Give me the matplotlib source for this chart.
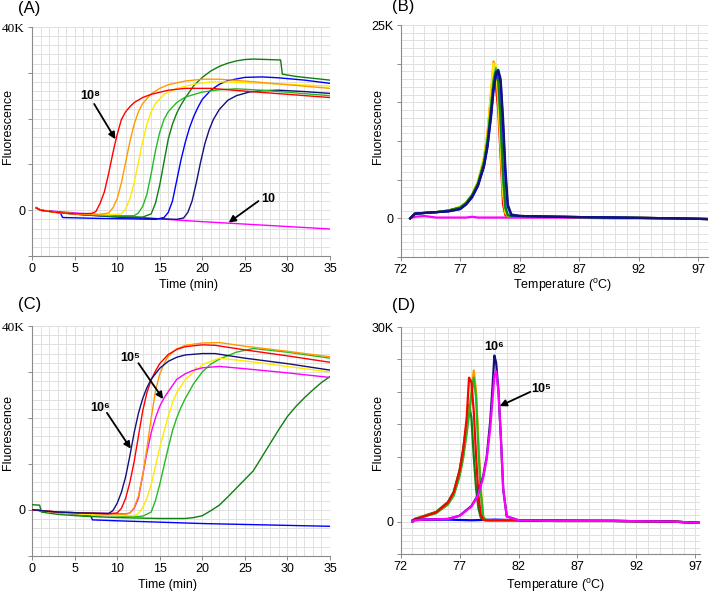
import matplotlib
matplotlib.use("Agg")
import matplotlib.pyplot as plt
from matplotlib.ticker import MultipleLocator, FixedLocator

plt.rcParams['font.family'] = ['Liberation Sans', 'DejaVu Sans']
plt.rcParams['mathtext.fontset'] = 'custom'
plt.rcParams['mathtext.rm'] = 'Liberation Sans'

# ---------------- Panel A (amplification, time in min, fluorescence in K) ----------------
a_t_red = [0.5, 1, 3, 5, 7, 7.5, 8, 8.5, 9, 9.5, 10, 10.5, 11, 11.5, 12, 13, 14, 16, 18, 21, 25, 30, 35]
a_y_red = [0.5, 0, -0.5, -0.8, -0.7, -0.3, 1.5, 4, 8, 12.5, 16.5, 19.8, 21.5, 22.6, 23.5, 24.6, 25.3, 26.2, 26.6, 26.6, 26.0, 25.3, 24.6]
a_t_orange = [0.5, 1, 3, 5, 8, 9, 9.5, 10, 10.5, 11, 11.5, 12, 12.5, 13, 14, 15, 16, 18, 20, 22, 25, 30, 35]
a_y_orange = [0.5, 0, -0.5, -0.8, -0.9, -0.6, 0.5, 2.5, 6, 10.5, 15, 18.8, 21.5, 23.3, 25.4, 26.6, 27.4, 28.2, 28.6, 28.6, 28.2, 27.4, 26.6]
a_t_yellow = [0.5, 1, 3, 5, 9, 10.5, 11, 11.5, 12, 12.5, 13, 13.5, 14, 14.5, 15.5, 17, 19, 21, 23, 27, 31, 35]
a_y_yellow = [0.5, 0, -0.5, -0.8, -1.0, -0.8, 0.3, 2.5, 6, 10.5, 15, 18.8, 21.5, 23.3, 25.3, 26.6, 27.5, 28, 28, 27.7, 27.4, 27.1]
a_t_green = [0.5, 1, 3, 6, 10, 12, 12.5, 13, 13.5, 14, 14.5, 15, 15.5, 16, 17, 18, 20, 22, 24, 27, 31, 35]
a_y_green = [0.5, 0, -0.5, -0.9, -1.2, -1.2, -0.6, 0.8, 3.5, 8, 13, 17, 19.8, 21.5, 23.5, 24.7, 25.8, 26.3, 26.5, 26.2, 25.6, 25]
a_t_dgreen = [0.5, 1, 3, 6, 10, 13, 14, 14.5, 15, 15.5, 16, 16.5, 17, 17.5, 18, 19, 20, 21, 22, 23, 24, 25, 26, 29.2, 29.4, 31, 35]
a_y_dgreen = [0.5, 0, -0.5, -1, -1.4, -1.5, -0.8, 1.5, 5.5, 10.5, 15.5, 18.8, 21.2, 23.0, 24.5, 27.2, 29, 30.4, 31.4, 32.1, 32.6, 32.9, 33, 32.8, 29.7, 29.2, 28.4]
a_t_blue = [0.5, 1, 3.3, 3.6, 8, 12, 14.5, 15.5, 16, 16.5, 17, 17.5, 18, 18.5, 19, 19.5, 20, 21, 22, 23, 25, 27, 29, 32, 35]
a_y_blue = [0.5, 0, -0.5, -1.6, -1.8, -1.9, -2, -1.6, -0.5, 2, 6.5, 11, 14.8, 18, 20.5, 22.5, 24.2, 26.2, 27.5, 28.3, 29, 29.1, 28.9, 28.4, 27.7]
a_t_navy = [0.5, 1, 3, 6, 10, 14, 17, 17.8, 18.3, 18.8, 19.3, 19.8, 20.3, 20.8, 21.3, 22, 23, 24, 25.5, 27, 29, 32, 35]
a_y_navy = [0.5, 0, -0.5, -1, -1.5, -1.8, -2, -1.7, -0.5, 2, 6, 10.5, 14.5, 17.5, 19.8, 22, 24, 25, 25.8, 26.1, 26.2, 25.9, 25.5]
a_t_magenta = [0.5, 1, 10, 20, 35]
a_y_magenta = [0.6, 0, -1.3, -2.5, -4.1]

# ---------------- Panel B (melt curves, temperature in C, fluorescence in K) ----------------
b_temp = [72.8, 73.0, 73.2, 74, 75, 76, 77, 77.5, 78, 78.5, 79, 79.3, 79.6, 79.8, 80.0, 80.2, 80.4, 80.6, 80.8, 81.0, 81.3, 82, 85, 90, 95, 98]
b_red = [0, 0.3, 0.6, 0.7, 0.8, 1.0, 1.4, 2.0, 3.0, 4.6, 7.6, 10.8, 15.8, 17.6, 17.0, 14, 8, 1.8, 0.4, 0.3, 0.3, 0.3, 0.2, 0.1, 0.0, -0.1]
b_orange = [0, 0.3, 0.6, 0.7, 0.8, 1.0, 1.4, 2.0, 3.0, 4.7, 7.8, 11, 16.5, 20.3, 19.5, 15, 9, 3, 0.7, 0.3, 0.3, 0.3, 0.2, 0.1, 0.0, -0.1]
b_yellow = [0, 0.3, 0.6, 0.7, 0.8, 1.0, 1.5, 2.1, 3.1, 4.8, 7.9, 11, 16.3, 20.0, 19.8, 16, 10, 3.5, 0.8, 0.3, 0.3, 0.3, 0.2, 0.1, 0.0, -0.1]
b_green = [0, 0.3, 0.6, 0.7, 0.8, 1.0, 1.4, 2.0, 3.0, 4.6, 7.4, 10.3, 14.8, 18, 19.4, 17.5, 12, 5, 1.2, 0.4, 0.3, 0.3, 0.2, 0.1, 0.0, -0.1]
b_dgreen = [0, 0.3, 0.6, 0.7, 0.8, 1.0, 1.4, 2.0, 3.0, 4.5, 7.2, 10, 14.2, 17.4, 19.0, 17.8, 13, 6, 1.5, 0.4, 0.3, 0.3, 0.2, 0.1, 0.0, -0.1]
b_blue = [0, 0.3, 0.6, 0.7, 0.8, 0.9, 1.2, 1.8, 2.7, 4.2, 6.7, 9.3, 13.2, 16.5, 18.4, 19.0, 17.5, 12, 5.5, 1.5, 0.4, 0.3, 0.2, 0.1, 0.0, -0.1]
b_navy = [0, 0.3, 0.6, 0.7, 0.8, 0.9, 1.2, 1.8, 2.8, 4.3, 6.8, 9.4, 13.5, 16.8, 18.8, 19.2, 18, 13, 6.5, 1.8, 0.5, 0.3, 0.2, 0.1, 0.0, -0.1]
b_magenta = [0, 0.1, 0.2, 0.3, 0.1, 0.1, 0.1, 0.1, 0.2, 0.1, 0.1, 0.1, 0.1, 0.1, 0.1, 0.1, 0.1, 0.1, 0.1, 0.1, 0.1, 0.1, 0.1, 0.0, 0.0, -0.1]

# ---------------- Panel C ----------------
c_t_navy = [0, 3, 6, 9, 9.5, 10, 10.5, 11, 11.5, 12, 12.5, 13, 13.5, 14, 15, 16, 17, 18, 20, 21.5, 25, 30, 35]
c_y_navy = [0, -0.5, -0.7, -0.8, -0.2, 1.4, 3.8, 7.2, 11.8, 16.8, 21, 24.2, 26.6, 28.4, 30.8, 32.3, 33.2, 33.7, 34, 34, 33, 31.8, 30.4]
c_t_red = [0, 3, 6, 9, 10, 10.5, 11, 11.5, 12, 12.5, 13, 13.5, 14, 14.5, 15, 16, 17, 18, 20, 21.5, 25, 30, 35]
c_y_red = [0, -0.5, -0.7, -0.9, -0.7, 0.3, 2.5, 6, 10.5, 16, 21.5, 25.5, 28.3, 30.2, 31.8, 33.8, 34.9, 35.5, 35.9, 35.8, 34.8, 33.5, 32.1]
c_t_orange = [0, 3, 6, 9, 11, 11.5, 12, 12.5, 13, 13.5, 14, 14.5, 15, 15.5, 16, 17, 18, 20, 22, 25, 30, 35]
c_y_orange = [0, -0.5, -0.7, -0.9, -1.0, -0.7, 0.5, 3, 7.5, 13.5, 20, 25.8, 29.5, 31.8, 33.4, 35, 35.8, 36.3, 36.4, 35.6, 34.5, 33.3]
c_t_magenta = [0, 3, 6, 9, 11, 11.5, 12, 12.5, 13, 13.5, 14, 14.5, 15, 15.5, 16, 17, 18, 19, 20, 22, 25, 30, 35]
c_y_magenta = [0, -0.5, -0.7, -0.8, -0.9, -0.7, 0.3, 2.5, 7.5, 12.5, 16.8, 20, 22.5, 24.3, 25.7, 28.4, 29.6, 30.4, 30.9, 31.2, 30.7, 29.8, 28.8]
c_t_yellow = [0, 3, 6, 9, 12, 12.5, 13, 13.5, 14, 14.5, 15, 15.5, 16, 16.5, 17, 18, 19, 19.3, 19.5, 20, 22, 25, 30, 35]
c_y_yellow = [0, -0.6, -1.0, -1.2, -1.3, -0.8, 0.5, 2.5, 5.5, 9.5, 13.5, 17, 20.3, 23.3, 25.5, 28.3, 30, 31, 30.5, 31.6, 33, 32.4, 31.2, 30]
c_t_green = [0, 3, 6, 9, 12, 13, 14, 14.5, 15, 15.5, 16, 16.5, 17, 17.5, 18, 19, 20, 21, 22, 24, 26, 30, 35]
c_y_green = [0, -0.6, -1.0, -1.3, -1.5, -1.4, -0.5, 2, 5.5, 9.5, 13.5, 17.2, 20, 22.3, 24.2, 27.5, 30, 31.7, 32.8, 34.3, 35.1, 34.3, 33]
c_t_dgreen = [0, 0.9, 1.1, 3, 6, 10, 15, 18, 19, 20, 21, 22, 23, 24, 25, 26, 27, 28, 29, 30, 31, 32, 33, 34, 35]
c_y_dgreen = [1.1, 1.0, -0.5, -1.0, -1.4, -1.7, -1.9, -1.9, -1.7, -1.3, -0.2, 1.0, 2.8, 4.7, 6.6, 8.5, 11.5, 14.5, 17.5, 20.3, 22.5, 24.4, 26.1, 27.7, 29]
c_t_blue = [0, 3, 6.9, 7.1, 10, 15, 20, 25, 30, 35]
c_y_blue = [0, -0.6, -1.3, -2.2, -2.4, -2.7, -3.0, -3.2, -3.4, -3.6]

# ---------------- Panel D ----------------
d_temp_left = [73.0, 73.2, 74, 75, 76, 76.5, 77, 77.3, 77.6, 77.8, 78.0, 78.2, 78.4, 78.6, 78.8, 79.0, 79.2, 79.5, 80, 82, 85, 90, 95, 97.4]
d_red = [0, 0.4, 0.8, 1.4, 2.9, 4.5, 7.8, 11, 16, 22.2, 21.5, 17, 10, 4, 1, 0.3, 0.2, 0.2, 0.2, 0.2, 0.1, 0.1, 0.0, -0.2]
d_orange = [0, 0.4, 0.8, 1.3, 2.7, 4.2, 7.2, 10, 14, 17, 20, 23.3, 20, 12, 5, 0.8, 0.3, 0.2, 0.2, 0.2, 0.1, 0.1, 0.0, -0.2]
d_green = [0, 0.4, 0.8, 1.3, 2.6, 4.0, 7.0, 9.8, 13.6, 16.5, 19.5, 22.2, 19, 11, 4.5, 0.7, 0.3, 0.2, 0.2, 0.2, 0.1, 0.1, 0.0, -0.2]
d_dgreen = [0, 0.4, 0.9, 1.5, 3.0, 4.6, 8.0, 11.2, 15, 18.0, 16, 10, 5, 2, 0.6, 0.3, 0.2, 0.2, 0.2, 0.2, 0.1, 0.1, 0.0, -0.2]
d_temp_right = [73.0, 73.2, 74, 76, 77, 78, 78.5, 79, 79.3, 79.6, 79.8, 79.95, 80.1, 80.3, 80.5, 80.7, 81, 82, 85, 90, 95, 97.4]
d_navy = [0, 0.3, 0.3, 0.4, 0.9, 2.4, 3.9, 7, 10, 15.5, 21, 25.6, 24.5, 20, 13, 5, 0.8, 0.2, 0.1, 0.1, 0.0, -0.2]
d_magenta = [0, 0.2, 0.3, 0.4, 0.9, 2.3, 3.8, 6.8, 9.7, 14.5, 19, 22.5, 23.2, 20, 13, 5, 0.8, 0.2, 0.1, 0.1, 0.0, -0.2]
d_temp_blue = [73, 74, 76, 78, 80, 82, 85, 90, 95, 97.4]
d_blue = [0.2, 0.3, 0.3, 0.2, 0.3, 0.2, 0.2, 0.1, 0.0, -0.2]

time_ticks = [0, 5, 10, 15, 20, 25, 30, 35]
temp_ticks = [72, 77, 82, 87, 92, 97]

COL = dict(red='#ff0000', orange='#ff9a00', yellow='#ffea00', green='#22bb22',
           dgreen='#0f7f0f', blue='#0000ff', navy='#12127a', magenta='#ff00ff')

fig = plt.figure(figsize=(7.09, 5.94), dpi=100)
W, H = 709, 594


def mkax(l, t, r, b):
    return fig.add_axes([l / W, 1 - b / H, (r - l) / W, (b - t) / H])


axA = mkax(32, 27, 330, 256)
axB = mkax(400.7, 25, 707.7, 257)
axC = mkax(32, 326, 330, 555.7)
axD = mkax(400.7, 327, 700, 554)

FS = 9


def style(ax, xlim, ylim, xticks, ymin_step, ymaj_step, top_label, serif_top):
    ax.set_xlim(*xlim)
    ax.set_ylim(*ylim)
    ax.xaxis.set_major_locator(FixedLocator(xticks))
    ax.xaxis.set_minor_locator(MultipleLocator(1))
    ax.yaxis.set_minor_locator(MultipleLocator(ymin_step))
    yt = []
    v = ylim[0]
    while v <= ylim[1] + 1e-9:
        yt.append(v)
        v += ymaj_step
    ax.yaxis.set_major_locator(FixedLocator(yt))
    labels = []
    for v in yt:
        if abs(v) < 1e-9:
            labels.append('0')
        elif abs(v - ylim[1]) < 1e-9:
            labels.append(top_label)
        else:
            labels.append('')
    ax.set_yticklabels(labels)
    ax.grid(True, which='both', color='#e0e0e0', lw=0.7, zorder=0)
    ax.set_axisbelow(True)
    for s in ('top', 'right'):
        ax.spines[s].set_visible(False)
    for s in ('left', 'bottom'):
        ax.spines[s].set_color('#8a8a8a')
        ax.spines[s].set_linewidth(0.8)
    ax.tick_params(which='major', length=3, width=0.7, color='#8a8a8a', labelsize=FS, pad=2)
    ax.tick_params(which='minor', length=0)
    ax.set_xlim(*xlim)
    ax.set_ylim(*ylim)
    if serif_top:
        for lab in ax.get_yticklabels():
            if lab.get_text() == top_label:
                lab.set_family(['Liberation Serif', 'DejaVu Serif'])
                lab.set_fontsize(FS + 0.5)


# Panel A
for t, y, c in [(a_t_magenta, a_y_magenta, 'magenta'), (a_t_navy, a_y_navy, 'navy'),
                (a_t_blue, a_y_blue, 'blue'), (a_t_dgreen, a_y_dgreen, 'dgreen'),
                (a_t_green, a_y_green, 'green'), (a_t_yellow, a_y_yellow, 'yellow'),
                (a_t_orange, a_y_orange, 'orange'), (a_t_red, a_y_red, 'red')]:
    axA.plot(t, y, color=COL[c], lw=1.0, zorder=3)
style(axA, (0, 35), (-10, 40), time_ticks, 2, 10, '40K', True)

# Panel B
for y, c in [(b_magenta, 'magenta'), (b_red, 'red'), (b_orange, 'orange'), (b_yellow, 'yellow'),
             (b_green, 'green'), (b_dgreen, 'dgreen'), (b_blue, 'blue'), (b_navy, 'navy')]:
    axB.plot(b_temp, y, color=COL[c], lw=1.6, zorder=3)
style(axB, (72, 97.8), (-5, 25), temp_ticks, 1, 5, '25K', False)

# Panel C
for t, y, c in [(c_t_blue, c_y_blue, 'blue'), (c_t_dgreen, c_y_dgreen, 'dgreen'),
                (c_t_green, c_y_green, 'green'), (c_t_yellow, c_y_yellow, 'yellow'),
                (c_t_magenta, c_y_magenta, 'magenta'), (c_t_orange, c_y_orange, 'orange'),
                (c_t_red, c_y_red, 'red'), (c_t_navy, c_y_navy, 'navy')]:
    axC.plot(t, y, color=COL[c], lw=1.0, zorder=3)
style(axC, (0, 35), (-10, 40), time_ticks, 2, 10, '40K', True)

# Panel D
axD.plot(d_temp_blue, d_blue, color=COL['blue'], lw=1.6, zorder=3)
for y, c in [(d_dgreen, 'dgreen'), (d_orange, 'orange'), (d_green, 'green'), (d_red, 'red')]:
    axD.plot(d_temp_left, y, color=COL[c], lw=1.6, zorder=3)
for y, c in [(d_navy, 'navy'), (d_magenta, 'magenta')]:
    axD.plot(d_temp_right, y, color=COL[c], lw=1.6, zorder=3)
style(axD, (72, 97.4), (-5, 30), temp_ticks, 1, 5, '30K', False)

# axis labels as figure texts (pixel positions of their centres)
for x, y in [(8, 127), (378, 127), (8, 433), (378, 432)]:
    fig.text(x / W, 1 - y / H, 'Fluorescence', rotation=90, fontsize=FS, ha='center', va='center')
for txt, x, y in [('Time (min)', 189, 285), ('Time (min)', 168, 585),
                  (r'Temperature ($^{\mathrm{o}}$C)', 562, 285),
                  (r'Temperature ($^{\mathrm{o}}$C)', 555, 585)]:
    fig.text(x / W, 1 - y / H, txt, fontsize=FS, ha='center', va='center')

# panel letters
for txt, x, y in [('(A)', 18, 8.5), ('(B)', 392, 7), ('(C)', 18, 304.5), ('(D)', 392, 305)]:
    fig.text(x / W, 1 - y / H, txt, fontsize=12, ha='left', va='center')

# annotations
arrow = dict(arrowstyle='-|>', color='black', lw=1.3, mutation_scale=10, shrinkA=0, shrinkB=0)
axA.text(6.8, 25, '10⁸', fontsize=FS, fontweight='bold', ha='center', va='center')
axA.annotate('', xy=(9.8, 15.5), xytext=(7.3, 23.2), arrowprops=arrow)
axA.text(27.8, 2.4, '10', fontsize=FS, fontweight='bold', ha='center', va='center')
axA.annotate('', xy=(23.1, -2.7), xytext=(26.6, 2.0), arrowprops=arrow)

axC.text(8.0, 22.2, '10⁶', fontsize=FS, fontweight='bold', ha='center', va='center')
axC.annotate('', xy=(11.6, 13.3), xytext=(8.8, 21.1), arrowprops=arrow)
axC.text(11.5, 33, '10⁵', fontsize=FS, fontweight='bold', ha='center', va='center')
axC.annotate('', xy=(15.4, 24.1), xytext=(12.5, 31.9), arrowprops=arrow)

axD.text(79.9, 26.9, '10⁶', fontsize=FS, fontweight='bold', ha='center', va='center')
axD.text(83.9, 20.5, '10⁵', fontsize=FS, fontweight='bold', ha='center', va='center')
axD.annotate('', xy=(80.4, 17.8), xytext=(83.0, 20.0), arrowprops=arrow)

fig.savefig('out.png', dpi=100)
